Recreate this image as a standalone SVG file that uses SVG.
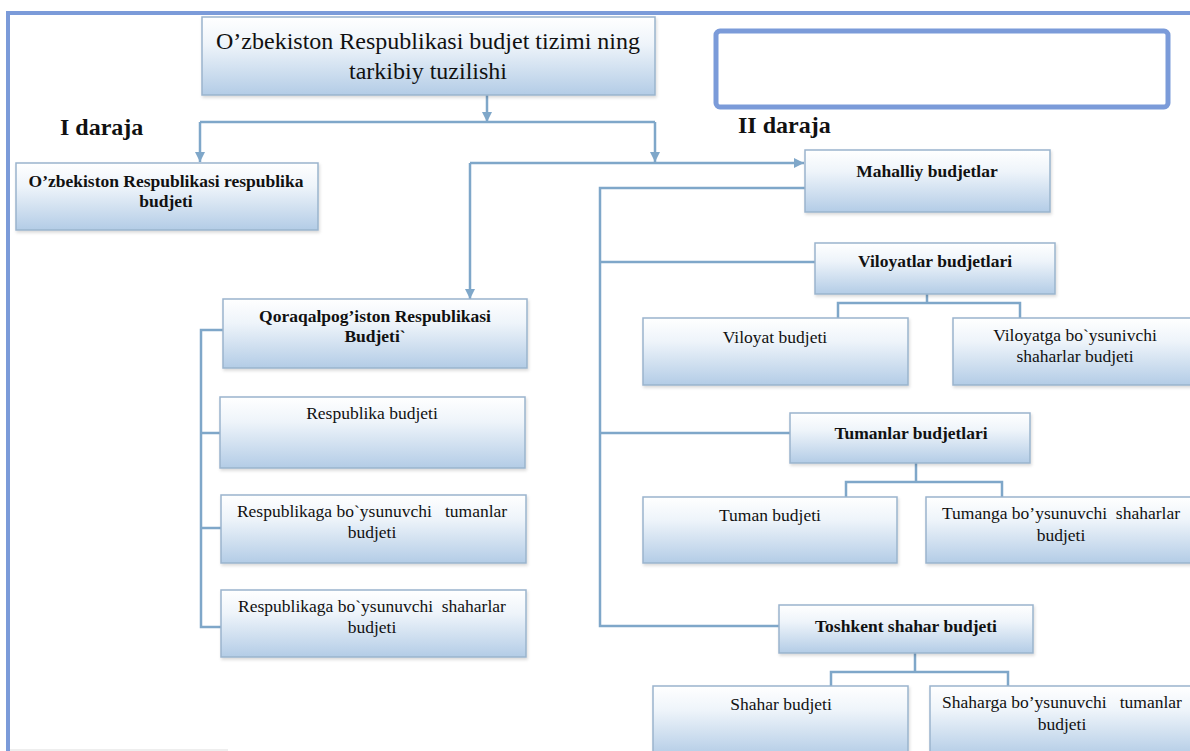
<svg xmlns="http://www.w3.org/2000/svg" width="1190" height="751" viewBox="0 0 1190 751">
<defs>
<linearGradient id="g" x1="0" y1="0" x2="0" y2="1">
<stop offset="0" stop-color="#ffffff"/>
<stop offset="0.35" stop-color="#eef4fa"/>
<stop offset="1" stop-color="#b3cce6"/>
</linearGradient>
<filter id="sh" x="-5%" y="-10%" width="110%" height="130%">
<feDropShadow dx="1" dy="2" stdDeviation="1.5" flood-color="#000000" flood-opacity="0.15"/>
</filter>
<marker id="ah" viewBox="0 0 10 10" refX="10" refY="5" markerWidth="10" markerHeight="10" orient="auto" markerUnits="userSpaceOnUse">
<path d="M0,0 L10,5 L0,10 z" fill="#7fa7c9"/>
</marker>
</defs>
<style>
.box{fill:url(#g);stroke:#9ab4cd;stroke-width:1.5;filter:url(#sh)}
text{font-family:'Liberation Serif','Times New Roman',Times,serif}
.t{font-size:17.5px;fill:#111;text-anchor:middle;white-space:pre}
.b{font-weight:bold}
.big{font-size:24px}
.lvl{font-size:24px;font-weight:bold;fill:#111}
.c{fill:none;stroke:#7fa7c9;stroke-width:2.5}
.a{marker-end:url(#ah)}
</style>
<rect width="1190" height="751" fill="#ffffff"/>
<g id="frame">
<path d="M8,751 V13 H1190" fill="none" stroke="#7b9bd9" stroke-width="4"/>
<line x1="10" y1="750" x2="228" y2="750" stroke="#dddddd" stroke-width="1"/>
<rect x="716" y="31" width="452" height="76" rx="4" fill="#ffffff" stroke="#7b9bd9" stroke-width="5"/>
</g>
<text class="lvl" x="60" y="135">I daraja</text>
<text class="lvl" x="738" y="133">II daraja</text>
<g id="connectors">
<path class="c a" d="M487,95 V122"/>
<path class="c" d="M200,122 H655"/>
<path class="c a" d="M200,122 V162"/>
<path class="c a" d="M655,122 V162"/>
<path class="c a" d="M470,163 H804"/>
<path class="c a" d="M470,163 V299"/>
<path class="c" d="M805,188 H600 V626 H780"/>
<path class="c" d="M600,262 H815"/>
<path class="c" d="M600,433 H790"/>
<path class="c" d="M927,294 V303 M838,318 V303 H1020 V318"/>
<path class="c" d="M916,463 V482 M846,497 V482 H1002 V497"/>
<path class="c" d="M915,653 V672 M831,686 V672 H1008 V686"/>
<path class="c" d="M223,330 H201 V627 H221 M201,433 H220 M201,528 H221"/>
</g>
<g id="n-top">
<rect class="box" x="202" y="17" width="453" height="78"/>
<text class="t big" x="428" y="49">O’zbekiston Respublikasi budjet tizimi ning</text>
<text class="t big" x="428" y="79">tarkibiy tuzilishi</text>
</g>
<g id="n-respublika">
<rect class="box" x="16" y="163" width="302" height="67"/>
<text class="t b" x="166" y="187">O’zbekiston Respublikasi respublika</text>
<text class="t b" x="166" y="207">budjeti</text>
</g>
<g id="n-mahalliy">
<rect class="box" x="805" y="150" width="245" height="62"/>
<text class="t b" x="927" y="177">Mahalliy budjetlar</text>
</g>
<g id="n-viloyatlar">
<rect class="box" x="815" y="243" width="240" height="51"/>
<text class="t b" x="935" y="267">Viloyatlar budjetlari</text>
</g>
<g id="n-viloyat">
<rect class="box" x="643" y="318" width="265" height="67"/>
<text class="t" x="775" y="343">Viloyat budjeti</text>
</g>
<g id="n-viloyatga">
<rect class="box" x="953" y="318" width="250" height="67"/>
<text class="t" x="1075" y="341">Viloyatga bo`ysunivchi</text>
<text class="t" x="1075" y="362">shaharlar budjeti</text>
</g>
<g id="n-tumanlar">
<rect class="box" x="790" y="413" width="240" height="50"/>
<text class="t b" x="911" y="439">Tumanlar budjetlari</text>
</g>
<g id="n-tuman">
<rect class="box" x="643" y="497" width="254" height="66"/>
<text class="t" x="770" y="521">Tuman budjeti</text>
</g>
<g id="n-tumanga">
<rect class="box" x="926" y="497" width="276" height="66"/>
<text class="t" x="1061" y="519">Tumanga bo’ysunuvchi  shaharlar</text>
<text class="t" x="1061" y="541">budjeti</text>
</g>
<g id="n-toshkent">
<rect class="box" x="779" y="605" width="254" height="48"/>
<text class="t b" x="906" y="632">Toshkent shahar budjeti</text>
</g>
<g id="n-shahar">
<rect class="box" x="653" y="686" width="255" height="70"/>
<text class="t" x="781" y="710">Shahar budjeti</text>
</g>
<g id="n-shaharga">
<rect class="box" x="930" y="686" width="272" height="70"/>
<text class="t" x="1062" y="708">Shaharga bo’ysunuvchi   tumanlar</text>
<text class="t" x="1062" y="730">budjeti</text>
</g>
<g id="n-qoraqalpog">
<rect class="box" x="223" y="299" width="304" height="69"/>
<text class="t b" x="375" y="322">Qoraqalpog’iston Respublikasi</text>
<text class="t b" x="375" y="342">Budjeti`</text>
</g>
<g id="n-resp-budjet">
<rect class="box" x="220" y="397" width="305" height="71"/>
<text class="t" x="372" y="419">Respublika budjeti</text>
</g>
<g id="n-resp-tuman">
<rect class="box" x="221" y="495" width="305" height="68"/>
<text class="t" x="372" y="517">Respublikaga bo`ysunuvchi   tumanlar</text>
<text class="t" x="372" y="538">budjeti</text>
</g>
<g id="n-resp-shahar">
<rect class="box" x="221" y="590" width="305" height="67"/>
<text class="t" x="372" y="612">Respublikaga bo`ysunuvchi  shaharlar</text>
<text class="t" x="372" y="633">budjeti</text>
</g>
</svg>
